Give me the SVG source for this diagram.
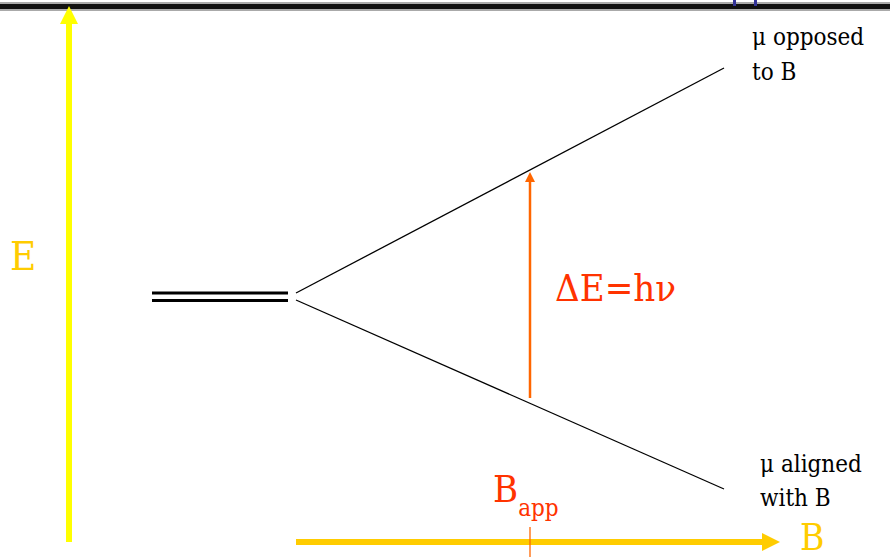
<svg xmlns="http://www.w3.org/2000/svg" width="890" height="560" viewBox="0 0 890 560">
<style>
text{font-family:'DejaVu Serif Condensed','DejaVu Serif',serif;font-stretch:condensed}
.blk{fill:#000;font-size:24px}
.lvl{stroke:#000;stroke-width:1.3;fill:none}
</style>
<rect width="890" height="560" fill="#fff"/>
<g id="topbar">
<rect x="0" y="2" width="890" height="9" fill="#aaa"/>
<rect x="0" y="4" width="890" height="5" fill="#111"/>
<rect x="733" y="0" width="3" height="6" fill="#333399"/>
<rect x="754" y="0" width="3" height="6" fill="#333399"/>
</g>
<g id="connectors">
<line x1="69" y1="542" x2="69" y2="22" stroke="#FFFF00" stroke-width="6"/>
<polygon points="69,6 60,24 78,24" fill="#FFFF00"/>
<line x1="296" y1="542" x2="764" y2="542" stroke="#FFCC00" stroke-width="6"/>
<polygon points="780,542 762,533 762,551" fill="#FFCC00"/>
<line x1="530" y1="527" x2="530" y2="557" stroke="#FF6600" stroke-width="1.3"/>
<line x1="152" y1="293" x2="288" y2="293" stroke="#000" stroke-width="3"/>
<line x1="152" y1="300.5" x2="288" y2="300.5" stroke="#000" stroke-width="3"/>
<line class="lvl" x1="296" y1="293" x2="724" y2="68"/>
<line class="lvl" x1="296" y1="300" x2="724" y2="489"/>
<line x1="530" y1="398" x2="530" y2="180" stroke="#FF6600" stroke-width="2.5"/>
<polygon points="530,172 525,182 535,182" fill="#FF6600"/>
</g>
<g id="labels">
<text x="10" y="270" font-size="40" fill="#FFCC00">E</text>
<text x="800" y="550" font-size="37" fill="#FFCC00">B</text>
<text x="555" y="301" font-size="38" fill="#FF3300">ΔE=hν</text>
<text x="493" y="502" font-size="38" fill="#FF3300">B<tspan font-size="24" dy="14">app</tspan></text>
<text class="blk" x="752" y="45">μ opposed</text>
<text class="blk" x="752" y="80">to B</text>
<text class="blk" x="760" y="472">μ aligned</text>
<text class="blk" x="760" y="506">with B</text>
</g>
</svg>
